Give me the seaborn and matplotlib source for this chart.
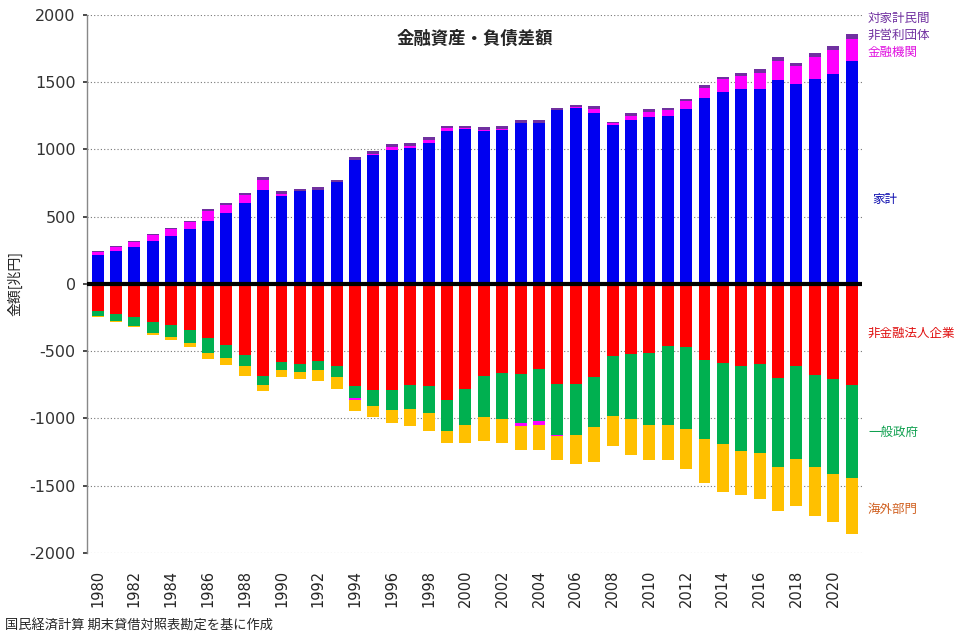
import numpy as np
import pandas as pd
import matplotlib
matplotlib.use("Agg")
import matplotlib.pyplot as plt
import seaborn as sns

sns.set_theme(style="white")
plt.rcParams['font.family'] = ['Noto Sans CJK JP', 'DejaVu Sans']
plt.rcParams['axes.unicode_minus'] = False

years = list(range(1980, 2022))

# 家計
household = [215, 245, 275, 319, 356, 408, 468, 527, 601, 698, 653, 690, 698, 757,
             920, 958, 995, 1010, 1045, 1138, 1150, 1138, 1145, 1200, 1200, 1294,
             1309, 1270, 1185, 1220, 1242, 1250, 1302, 1384, 1428, 1450, 1450, 1517,
             1488, 1525, 1562, 1658]
# 金融機関
financial = [25, 30, 38, 45, 52, 52, 78, 63, 62, 74, 17, 0, 0, 0,
             -15, 8, 22, 17, 24, 22, 7, 8, 8, -22, -30, -8,
             8, 32, 12, 32, 40, 45, 59, 74, 97, 97, 119, 141,
             133, 163, 178, 164]
# 対家計民間非営利団体
npish = [5, 7, 6, 7, 8, 8, 11, 11, 12, 22, 20, 15, 22, 15,
         23, 21, 22, 23, 22, 15, 15, 19, 19, 20, 20, 12,
         10, 22, 6, 18, 17, 14, 15, 22, 15, 22, 30, 30,
         23, 30, 30, 37]
# 非金融法人企業
corporate = [-203, -223, -248, -285, -307, -344, -403, -455, -530, -686, -579, -594, -572, -611,
             -757, -787, -787, -752, -757, -861, -780, -683, -661, -671, -631, -743,
             -743, -691, -535, -520, -512, -462, -469, -566, -590, -613, -598, -700,
             -613, -680, -707, -754]
# 一般政府
government = [-37, -54, -64, -79, -87, -94, -109, -95, -79, -66, -60, -59, -67, -79,
              -89, -119, -149, -176, -201, -231, -267, -305, -341, -361, -386, -378,
              -378, -376, -445, -482, -535, -588, -610, -588, -601, -630, -660, -662,
              -690, -682, -707, -690]
# 海外部門
overseas = [-5, -8, -7, -15, -22, -30, -45, -51, -74, -45, -52, -52, -81, -90,
            -82, -82, -101, -126, -134, -89, -134, -178, -179, -179, -186, -178,
            -216, -255, -223, -268, -260, -260, -298, -327, -357, -328, -342, -328,
            -350, -365, -358, -417]

colors = {
    "非金融法人企業": "#FF0000",
    "家計": "#0000F0",
    "一般政府": "#00B050",
    "金融機関": "#FF00FF",
    "対家計民間非営利団体": "#7030A0",
    "海外部門": "#FFC000",
}
series = {
    "非金融法人企業": corporate,
    "家計": household,
    "一般政府": government,
    "金融機関": financial,
    "対家計民間非営利団体": npish,
    "海外部門": overseas,
}

# stack positives and negatives separately (Excel style)
df = pd.DataFrame(series, index=[str(y) for y in years])
pos_base = np.zeros(len(years))
neg_base = np.zeros(len(years))
layers = []
for name, vals in series.items():
    v = np.array(vals, dtype=float)
    p = np.where(v > 0, v, 0)
    n = np.where(v < 0, v, 0)
    if p.any():
        layers.append((name, pos_base + p))
    if n.any():
        layers.append((name, neg_base + n))
    pos_base = pos_base + p
    neg_base = neg_base + n

fig = plt.figure(figsize=(9.77, 6.39), dpi=100)
ax = fig.add_axes([0.089, 0.1346, 0.793, 0.842])

xlab = df.index.tolist()
# draw outermost cumulative first so inner layers sit on top
for name, cum in reversed(layers):
    sns.barplot(x=xlab, y=cum, color=colors[name], width=0.65, ax=ax,
                saturation=1, linewidth=0, order=xlab)

ax.set_ylim(-2000, 2000)
ax.set_xlim(-0.58, 41.55)
ax.set_yticks(range(-2000, 2001, 500))
ax.set_yticklabels([str(v) for v in range(-2000, 2001, 500)], family='DejaVu Sans')
ax.tick_params(axis='y', labelsize=11.5, length=3, left=True, pad=5, colors='#333333')
ax.tick_params(axis='x', length=0, labelsize=10.5, pad=12)
ax.set_xticks(range(0, len(years), 2))
ax.set_xticklabels([str(y) for y in years[::2]], rotation=90, family='DejaVu Sans')
for y in range(-2000, 2001, 500):
    if y != 0:
        ax.axhline(y, color='#777777', lw=0.8, ls=(0, (1, 2)), zorder=0)
ax.axhline(0, color='black', lw=3, zorder=5)
for s in ['top', 'right', 'bottom']:
    ax.spines[s].set_visible(False)
ax.spines['left'].set_color('#888888')
ax.spines['left'].set_linewidth(1)
ax.set_ylabel("金額[兆円]", fontsize=10)
ax.yaxis.set_label_coords(-0.083, 0.5)
ax.set_xlabel("")

ax.text(0.5, 0.955, "金融資産・負債差額", transform=ax.transAxes, ha='center', va='center',
        fontsize=12.5, fontweight='bold')

lab_x = 868 / 977
fig.text(lab_x, 1 - 18 / 639, "対家計民間", color="#7030A0", fontsize=9, va='center')
fig.text(lab_x, 1 - 35 / 639, "非営利団体", color="#7030A0", fontsize=9, va='center')
fig.text(lab_x, 1 - 52 / 639, "金融機関", color="#E010E0", fontsize=9, va='center')
fig.text(872 / 977, 1 - 199 / 639, "家計", color="#1010B0", fontsize=9, va='center')
fig.text(lab_x, 1 - 333 / 639, "非金融法人企業", color="#E01010", fontsize=9, va='center')
fig.text(lab_x, 1 - 432 / 639, "一般政府", color="#10A050", fontsize=9, va='center')
fig.text(lab_x, 1 - 509 / 639, "海外部門", color="#D06020", fontsize=9, va='center')
fig.text(5 / 977, 1 - 625 / 639, "国民経済計算 期末貸借対照表勘定を基に作成", fontsize=9.5, va='center')

fig.savefig("out.png", dpi=100)
